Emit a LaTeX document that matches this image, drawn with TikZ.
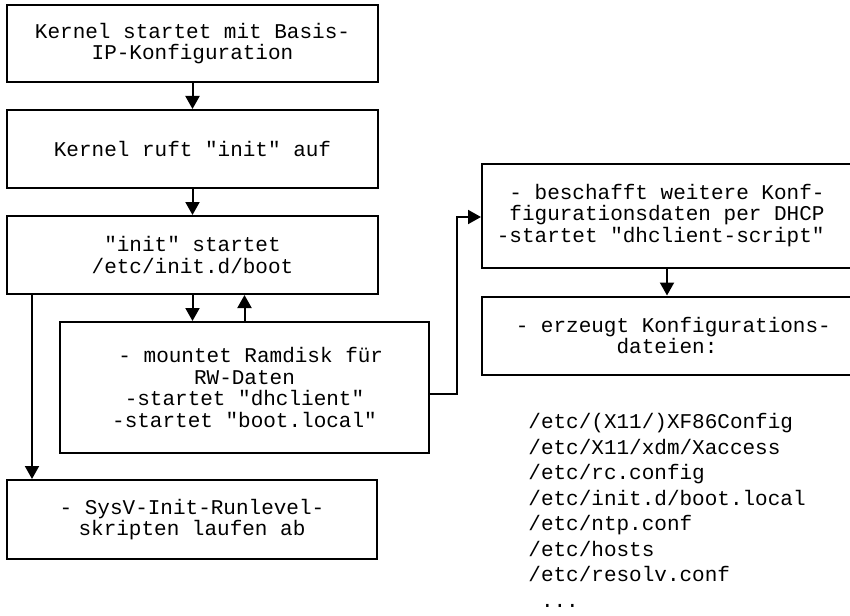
\documentclass[tikz,border=0pt]{standalone}
\usepackage{fontspec}
\setmonofont{Liberation Mono}
\usetikzlibrary{arrows.meta}
\begin{document}
\begin{tikzpicture}[x=0.5pt,y=-0.5pt,
  box/.style={draw, line width=1pt, inner sep=0pt, align=center,
    font=\ttfamily\fontsize{10.5pt}{10.8pt}\selectfont},
  arr/.style={line width=1pt, -{Triangle[length=6.5pt,width=7pt]}},
  files/.style={inner sep=0pt, align=left, anchor=north west,
    font=\ttfamily\fontsize{10.5pt}{12.75pt}\selectfont}]
\useasboundingbox (0,0) rectangle (850,615);
\clip (0,0) rectangle (850,615);
\node[box, minimum width=185.5pt, minimum height=38.5pt] (b1) at (192.5,43.5)
  {Kernel startet mit Basis-\\IP-Konfiguration};
\node[box, minimum width=185.5pt, minimum height=39pt] (b2) at (192.5,149)
  {Kernel ruft "init" auf};
\node[box, minimum width=185.5pt, minimum height=39pt] (b3) at (192.5,255)
  {"init" startet\\/etc/init.d/boot};
\node[box, minimum width=184.5pt, minimum height=65.5pt] (b4) at (244.5,387.5)
  {\hphantom{x}- mountet Ramdisk für\\RW-Daten\\-startet "dhclient"\\-startet "boot.local"};
\node[box, minimum width=185pt, minimum height=39.5pt] (b5) at (192,519.5)
  {- SysV-Init-Runlevel-\\skripten laufen ab};
\node[box, minimum width=185pt, minimum height=52pt] (b6) at (667,215.5)
  {- beschafft weitere Konf-\\figurationsdaten per DHCP\\-startet "dhclient-script"\hphantom{x}};
\node[box, minimum width=185pt, minimum height=39pt] (b7) at (667,335.5)
  {\hphantom{x}- erzeugt Konfigurations-\\dateien:};
\node[files] (fl) at (528,413)
  {/etc/(X11/)XF86Config\\/etc/X11/xdm/Xaccess\\/etc/rc.config\\/etc/init.d/boot.local\\/etc/ntp.conf\\/etc/hosts\\/etc/resolv.conf\\\hphantom{.}...};
\draw[arr] (b1.south) -- (b2.north);
\draw[arr] (b2.south) -- (b3.north);
\draw[arr] (b3.south) -- (b3.south |- b4.north);
\draw[arr] (b4.north) -- (b4.north |- b3.south);
\draw[arr] ([xshift=13pt]b3.south west) -- ([xshift=13pt]b5.north west);
\draw[arr] ([yshift=-3.25pt]b4.east) -- ++(13.5pt,0) |- ([yshift=-0.75pt]b6.west);
\draw[arr] (b6.south) -- (b7.north);
\end{tikzpicture}
\end{document}
